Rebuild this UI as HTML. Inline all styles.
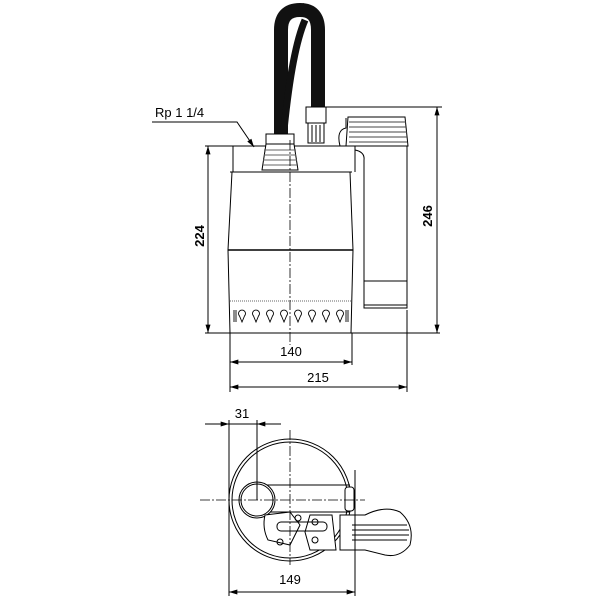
<!DOCTYPE html>
<html><head><style>body{margin:0;background:#fff}svg{display:block}</style></head><body>
<svg width="600" height="600" viewBox="0 0 600 600" xmlns="http://www.w3.org/2000/svg" font-family="Liberation Sans, sans-serif">
<defs>
<marker id="a" viewBox="0 0 10 6" refX="10" refY="3" markerWidth="12" markerHeight="5" orient="auto-start-reverse" markerUnits="userSpaceOnUse"><path d="M0,0L10,3L0,6z" fill="#000"/></marker>
</defs>
<g stroke="#000" fill="none" stroke-width="1">
<path d="M281,142 L281,30 Q281,10 300,10 Q318,10 318,30 L318,108" stroke="#111" stroke-width="14"/>
<path d="M284,130 Q292,50 305,20" stroke="#111" stroke-width="7"/>
<path d="M300,12 L306,5" stroke="#111" stroke-width="6"/>
<path d="M233,146 L355,146 M233,146 L233,172 M355,146 L355,172"/>
<rect x="266" y="134" width="28" height="10" fill="#fff"/>
<path d="M266,144 L262,170 L298,170 L294,144z" fill="#fff"/>
<path d="M264,150h32M264,155h32M263,160h34M263,165h34" stroke="#666"/>
<rect x="306" y="107" width="20" height="16" fill="#fff"/>
<rect x="308" y="123" width="16" height="20" fill="#fff"/>
<path d="M312,125v17M316,125v17M320,125v17"/>
<path d="M340,146 Q336,130 346,128 L346,118"/>
<path d="M348,117 L405,117 L408,146 L346,146z" fill="#fff"/>
<path d="M349,122h57M349,127h57M349,132h58M349,137h58M349,142h58" stroke="#444"/>
<path d="M230,172 L352,172"/>
<path d="M232,172 L228,250 L230,333 M350,172 L353,250 L351,333"/>
<path d="M228,250 L353,250" stroke-width="1.5"/>
<path d="M230,301 L351,301" stroke-dasharray="1,1" stroke="#666"/>
<g stroke-width="0.9">
<path d="M242,322 L239.5,316 A3.5,3.5 0 1 1 244.5,316 Z M256,322 L253.5,316 A3.5,3.5 0 1 1 258.5,316 Z M270,322 L267.5,316 A3.5,3.5 0 1 1 272.5,316 Z M284,322 L281.5,316 A3.5,3.5 0 1 1 286.5,316 Z M298,322 L295.5,316 A3.5,3.5 0 1 1 300.5,316 Z M312,322 L309.5,316 A3.5,3.5 0 1 1 314.5,316 Z M326,322 L323.5,316 A3.5,3.5 0 1 1 328.5,316 Z M340,322 L337.5,316 A3.5,3.5 0 1 1 342.5,316 Z"/>
<path d="M234,310v12M236,310v12M346,310v12M348,310v12"/>
</g>
<path d="M355,150 Q365,152 364,160 L364,308 L407,308 L407,146"/>
<path d="M364,281 L407,281 M364,305 L407,305"/>
<path d="M290,140 L290,345" stroke-dasharray="10,2,2,2" stroke-width="0.8"/>
<path d="M205,146 L237,146 M205,333 L440,333 M326,107 L442,107"/>
<path d="M208,146 L208,333" marker-start="url(#a)" marker-end="url(#a)"/>
<path d="M437,107 L437,333" marker-start="url(#a)" marker-end="url(#a)"/>
<path d="M230,333 L230,392 M352,333 L352,365 M407,310 L407,392"/>
<path d="M230,362 L352,362" marker-start="url(#a)" marker-end="url(#a)"/>
<path d="M230,387 L407,387" marker-start="url(#a)" marker-end="url(#a)"/>
<path d="M152,122 L237,122 L254,147" marker-end="url(#a)"/>
<circle cx="290" cy="500" r="61"/>
<circle cx="290" cy="500" r="58"/>
<path d="M257,485 L350,485 M257,512 L350,512"/>
<circle cx="257" cy="500" r="18" fill="#fff"/>
<circle cx="257" cy="500" r="16"/>
<rect x="345" y="487" width="9" height="24" rx="3" fill="#fff"/>
<path d="M340,515 L365,515 Q385,505 400,512 Q415,525 410,545 Q400,558 385,555 L365,550 L340,550z" fill="#fff"/>
<path d="M352,525h55M352,530h57M352,535h57M352,540h55"/>
<path d="M265,515 L290,512 L300,525 L290,545 L268,540 Q262,528 265,515z" fill="#fff"/>
<path d="M310,515 L332,515 L336,550 L310,550 L305,532z" fill="#fff"/>
<rect x="277" y="522" width="50" height="9" rx="4"/>
<circle cx="298" cy="518" r="3"/><circle cx="315" cy="522" r="3"/><circle cx="315" cy="540" r="3"/><circle cx="280" cy="542" r="3"/>
<path d="M200,500 L365,500 M290,430 L290,565" stroke-dasharray="10,2,2,2" stroke-width="0.8"/>
<path d="M229,420 L229,596 M257,420 L257,500 M355,470 L355,596"/>
<path d="M205,424 L229,424" marker-end="url(#a)"/>
<path d="M281,424 L257,424" marker-end="url(#a)"/>
<path d="M229,424 L257,424"/>
<path d="M229,592 L355,592" marker-start="url(#a)" marker-end="url(#a)"/>
</g>
<g font-size="13" fill="#000">
<text x="155" y="117">Rp 1 1/4</text>
<text x="291" y="356" text-anchor="middle">140</text>
<text x="318" y="382" text-anchor="middle">215</text>
<text x="242" y="418" text-anchor="middle">31</text>
<text x="290" y="584" text-anchor="middle">149</text>
<text transform="translate(204,236) rotate(-90)" text-anchor="middle" font-weight="bold">224</text>
<text transform="translate(432,216) rotate(-90)" text-anchor="middle" font-weight="bold">246</text>
</g>
</svg>
</body></html>
